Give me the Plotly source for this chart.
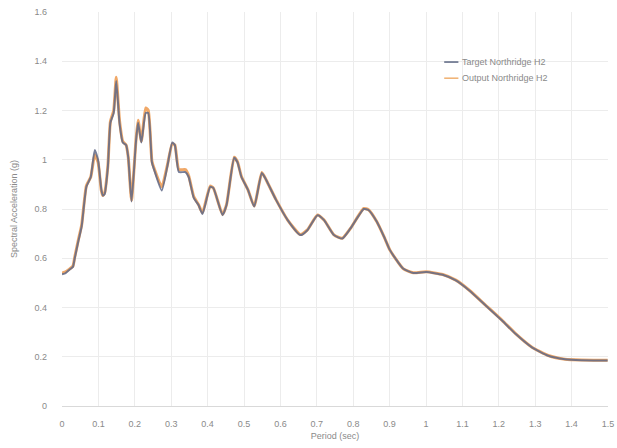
import plotly.graph_objects as go

# Response spectrum, Northridge H2 component
period = [0.000, 0.010, 0.022, 0.030, 0.035, 0.045, 0.054, 0.067, 0.079, 0.090,
          0.099, 0.108, 0.112, 0.117, 0.126, 0.133, 0.142, 0.149, 0.158, 0.167,
          0.176, 0.182, 0.191, 0.203, 0.209, 0.218, 0.230, 0.237, 0.247, 0.253,
          0.274, 0.289, 0.303, 0.310, 0.321, 0.339, 0.348, 0.362, 0.375, 0.386,
          0.407, 0.416, 0.441, 0.452, 0.473, 0.482, 0.493, 0.511, 0.528, 0.549,
          0.561, 0.588, 0.620, 0.655, 0.674, 0.702, 0.720, 0.747, 0.770, 0.792,
          0.829, 0.842, 0.865, 0.887, 0.901, 0.937, 0.965, 1.001, 1.046, 1.082,
          1.119, 1.164, 1.209, 1.246, 1.291, 1.336, 1.382, 1.427, 1.499]

target_sa = [0.535, 0.540, 0.555, 0.565, 0.600, 0.670, 0.730, 0.890, 0.930, 1.040,
             1.000, 0.880, 0.855, 0.860, 0.970, 1.150, 1.190, 1.320, 1.150, 1.070,
             1.060, 1.010, 0.830, 1.070, 1.150, 1.070, 1.190, 1.190, 0.990, 0.960,
             0.875, 0.970, 1.070, 1.060, 0.950, 0.950, 0.930, 0.845, 0.816, 0.780,
             0.890, 0.885, 0.775, 0.816, 1.008, 0.990, 0.930, 0.878, 0.810, 0.946,
             0.918, 0.837, 0.755, 0.694, 0.714, 0.775, 0.755, 0.694, 0.680, 0.720,
             0.800, 0.796, 0.748, 0.680, 0.633, 0.558, 0.540, 0.544, 0.533, 0.510,
             0.469, 0.408, 0.347, 0.293, 0.238, 0.204, 0.190, 0.186, 0.185]

output_sa = [0.540, 0.545, 0.558, 0.568, 0.605, 0.675, 0.735, 0.895, 0.930, 1.020,
             0.990, 0.875, 0.855, 0.865, 0.975, 1.155, 1.200, 1.335, 1.160, 1.075,
             1.060, 1.010, 0.835, 1.075, 1.160, 1.075, 1.210, 1.200, 0.995, 0.965,
             0.890, 0.975, 1.065, 1.060, 0.960, 0.960, 0.935, 0.850, 0.818, 0.785,
             0.893, 0.885, 0.778, 0.818, 1.010, 0.992, 0.932, 0.878, 0.812, 0.948,
             0.918, 0.838, 0.755, 0.696, 0.715, 0.776, 0.755, 0.695, 0.681, 0.720,
             0.802, 0.797, 0.748, 0.680, 0.633, 0.558, 0.541, 0.545, 0.534, 0.511,
             0.470, 0.409, 0.348, 0.294, 0.239, 0.205, 0.190, 0.187, 0.186]

x_ticks = [0, 0.1, 0.2, 0.3, 0.4, 0.5, 0.6, 0.7, 0.8, 0.9, 1.0, 1.1, 1.2, 1.3, 1.4, 1.5]
x_tick_text = ["0", "0.1", "0.2", "0.3", "0.4", "0.5", "0.6", "0.7", "0.8", "0.9",
               "1", "1.1", "1.2", "1.3", "1.4", "1.5"]
y_ticks = [0, 0.2, 0.4, 0.6, 0.8, 1.0, 1.2, 1.4, 1.6]
y_tick_text = ["0", "0.2", "0.4", "0.6", "0.8", "1", "1.2", "1.4", "1.6"]

series_names = ["Target Northridge H2", "Output Northridge H2"]
target_color = "rgba(95,105,135,0.85)"
output_color = "#F0A868"

fig = go.Figure()
fig.add_trace(go.Scatter(
    x=period, y=output_sa, name=series_names[1], mode="lines",
    line=dict(color=output_color, width=3, shape="spline", smoothing=0.5),
))
fig.add_trace(go.Scatter(
    x=period, y=target_sa, name=series_names[0], mode="lines",
    line=dict(color=target_color, width=2, shape="spline", smoothing=0.5),
))

text_font = dict(family="Liberation Sans, Arial, sans-serif", size=9, color="#8a8a8a")

# compact legend: short line swatch followed by the series name
legend_rows = [(series_names[0], "#5a6480", 0.873), (series_names[1], "#F0B070", 0.832)]
for name, color, yy in legend_rows:
    fig.add_shape(type="line", xref="paper", yref="paper",
                  x0=0.700, x1=0.726, y0=yy, y1=yy,
                  line=dict(color=color, width=1.5))
    fig.add_annotation(xref="paper", yref="paper", x=0.729, y=yy,
                       text=name, showarrow=False, xanchor="left", yanchor="middle",
                       font=text_font)

fig.update_layout(
    width=617, height=448,
    margin=dict(l=62, r=9, t=12, b=42),
    paper_bgcolor="white", plot_bgcolor="white",
    showlegend=False,
    xaxis=dict(range=[0, 1.5], tickvals=x_ticks, ticktext=x_tick_text,
               showgrid=True, gridcolor="#ececec", gridwidth=1,
               zeroline=False, showline=True, linecolor="#d9d9d9", linewidth=1,
               ticks="", tickfont=text_font, ticklabelstandoff=9,
               ticklabeloverflow="allow", automargin=False,
               title=dict(text="Period (sec)", font=text_font, standoff=4)),
    yaxis=dict(range=[0, 1.6], tickvals=y_ticks, ticktext=y_tick_text,
               showgrid=True, gridcolor="#ececec", gridwidth=1,
               zeroline=False, showline=False, automargin=False,
               ticks="", tickfont=text_font, ticklabelstandoff=14,
               title=dict(text="Spectral Acceleration (g)", font=text_font, standoff=15)),
)

fig.write_html("out.html")
